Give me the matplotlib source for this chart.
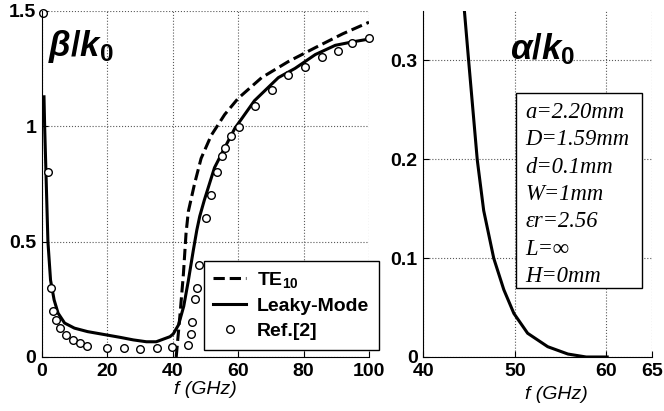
import matplotlib
matplotlib.use('Agg')
import matplotlib.pyplot as plt
from matplotlib.patches import Rectangle
import numpy as np

plt.rcParams['font.family'] = ['Liberation Sans', 'DejaVu Sans']
plt.rcParams['mathtext.fontset'] = 'custom'
plt.rcParams['mathtext.rm'] = 'Liberation Sans:bold'
plt.rcParams['mathtext.it'] = 'Liberation Sans:bold:italic'
plt.rcParams['mathtext.bf'] = 'Liberation Sans:bold'

# beta/k0 data (left panel)
f_leaky = [0.7, 0.9, 1.9, 2.7, 3.8, 5.0, 7, 10, 14, 20, 24, 28, 32, 35, 39.2,
           40.2, 41.8, 43.4, 44.8, 46.3, 47.4, 48.3, 49.7, 52.8, 55.9, 59, 65,
           72.3, 77.4, 83.6, 89.7, 95, 100]
b_leaky = [1.127, 1.0, 0.5, 0.333, 0.247, 0.19, 0.147, 0.125, 0.11, 0.095,
           0.085, 0.074, 0.066, 0.066, 0.088, 0.10, 0.139, 0.22, 0.33, 0.46,
           0.55, 0.61, 0.68, 0.82, 0.906, 0.99, 1.11, 1.21, 1.25, 1.31, 1.35,
           1.365, 1.377]

f_te = [41.1, 42.3, 43.3, 44.1, 44.8, 46.7, 48.7, 51.8, 55.9, 60, 67.2, 75.4,
        83.6, 92, 100]
b_te = [0.0, 0.19, 0.36, 0.535, 0.63, 0.75, 0.86, 0.96, 1.05, 1.12, 1.21, 1.28,
        1.34, 1.40, 1.45]

f_ref = [0.5, 1.9, 2.7, 3.5, 4.5, 5.5, 7.5, 9.6, 11.6, 13.9, 20, 25.1, 30, 35.1,
         39.7, 44.8, 45.6, 46.0, 46.9, 47.4, 48.2, 50.3, 51.8, 53.5, 55.1, 56.1,
         57.9, 60.2, 65.1, 70.5, 75.4, 80.3, 85.6, 90.6, 94.9, 100]
b_ref = [1.49, 0.80, 0.30, 0.20, 0.16, 0.124, 0.095, 0.074, 0.059, 0.049, 0.039,
         0.037, 0.036, 0.038, 0.045, 0.052, 0.10, 0.153, 0.25, 0.30, 0.40, 0.60,
         0.70, 0.80, 0.87, 0.906, 0.957, 0.997, 1.086, 1.158, 1.22, 1.258, 1.30,
         1.327, 1.362, 1.382]

# alpha/k0 data (right panel)
f_alpha = [44.5, 44.95, 45.9, 46.6, 47.7, 48.8, 49.9, 51.4, 53.6, 55.8, 57.8, 60.1]
a_alpha = [0.349, 0.300, 0.199, 0.148, 0.0997, 0.068, 0.044, 0.024, 0.0104,
           0.003, 0.0, 0.0]

params = ['a=2.20mm', 'D=1.59mm', 'd=0.1mm', 'W=1mm', '\u03b5r=2.56',
          'L=\u221e', 'H=0mm']

fig = plt.figure(figsize=(6.64, 4.11), dpi=100)
ax1 = fig.add_axes([0.0628, 0.1314, 0.4929, 0.8426])
ax2 = fig.add_axes([0.6375, 0.1314, 0.3445, 0.8426])

for ax in (ax1, ax2):
    ax.spines['top'].set_visible(False)
    ax.spines['right'].set_visible(False)
    ax.grid(True, linestyle=':', color='0.35', linewidth=0.8)
    ax.tick_params(direction='in', length=4, labelsize=14, pad=4)
    ax.set_xlabel('f (GHz)', fontsize=14, style='italic', labelpad=1)

ax1.plot(f_te, b_te, 'k--', lw=2.2, label=r'$\mathrm{TE}_{10}$')
ax1.plot(f_leaky, b_leaky, 'k-', lw=2.2, label='Leaky-Mode')
ax1.plot(f_ref, b_ref, 'o', mfc='white', mec='black', ms=5.5, mew=1,
         clip_on=False, label='Ref.[2]')
ax1.set_xlim(0, 100)
ax1.set_ylim(0, 1.5)
ax1.set_xticks([0, 20, 40, 60, 80, 100])
ax1.set_yticks([0, 0.5, 1, 1.5])
ax1.set_yticklabels(['0', '0.5', '1', '1.5'])
for lab in ax1.get_xticklabels() + ax1.get_yticklabels():
    lab.set_fontweight('bold')
ax1.text(0.02, 0.95, r'$\beta/k_{\mathit{0}}$', transform=ax1.transAxes,
         fontsize=25, va='top', ha='left')

leg = ax1.legend(loc='lower right', bbox_to_anchor=(379 / 664, 1 - 350 / 411),
                 bbox_transform=fig.transFigure, fancybox=False,
                 edgecolor='black', framealpha=1, handlelength=1.7,
                 handletextpad=0.55, borderpad=0.5, labelspacing=0.38,
                 borderaxespad=0, prop={'weight': 'bold', 'size': 14})
leg.get_frame().set_linewidth(1)

ax2.plot(f_alpha, a_alpha, 'k-', lw=2.2)
ax2.set_xlim(40, 65)
ax2.set_ylim(0, 0.35)
ax2.set_xticks([40, 50, 60, 65])
ax2.set_yticks([0, 0.1, 0.2, 0.3])
ax2.set_yticklabels(['0', '0.1', '0.2', '0.3'])
for lab in ax2.get_xticklabels() + ax2.get_yticklabels():
    lab.set_fontweight('bold')
ax2.xaxis.set_label_coords(0.58, -0.085)
ax2.text(0.38, 0.94, r'$\alpha/k_{\mathit{0}}$', transform=ax2.transAxes,
         fontsize=25, va='top', ha='left')
ax2.add_patch(Rectangle((0.404, 0.198), 0.551, 0.563, transform=ax2.transAxes,
                        fc='white', ec='black', lw=1, zorder=3))
ax2.text(0.445, 0.737, '\n'.join(params), transform=ax2.transAxes,
         fontsize=16.3, va='top', ha='left', style='italic',
         family=['Liberation Serif', 'DejaVu Serif'], linespacing=1.4,
         zorder=4)

fig.savefig('out.png', dpi=100)
